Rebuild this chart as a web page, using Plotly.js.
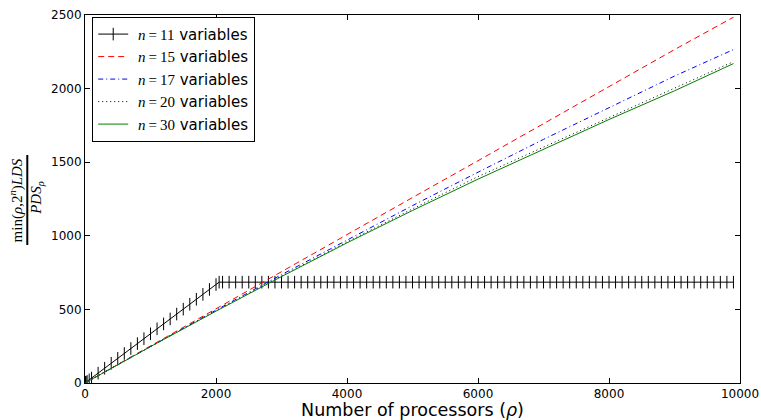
<!DOCTYPE html>
<html>
<head>
<meta charset="utf-8">
<script src="https://cdn.plot.ly/plotly-3.0.1.min.js"></script>
<style>html,body{margin:0;padding:0;background:#fff;}</style>
</head>
<body>
<div id="chart" style="width:761px;height:420px;"></div>
<script>
// n = 11 (measured points, with error-bar style ticks)
const xN11 = [1, 2, 4, 8, 16, 32, 64, 100, 200, 300, 400, 500, 600, 700, 800, 900, 1000,
  1100, 1200, 1300, 1400, 1500, 1600, 1700, 1800, 1900, 2000, 2048,
  2100, 2200, 2300, 2400, 2500, 2600, 2700, 2800, 2900, 3000,
  3100, 3200, 3300, 3400, 3500, 3600, 3700, 3800, 3900, 4000,
  4100, 4200, 4300, 4400, 4500, 4600, 4700, 4800, 4900, 5000,
  5100, 5200, 5300, 5400, 5500, 5600, 5700, 5800, 5900, 6000,
  6100, 6200, 6300, 6400, 6500, 6600, 6700, 6800, 6900, 7000,
  7100, 7200, 7300, 7400, 7500, 7600, 7700, 7800, 7900, 8000,
  8100, 8200, 8300, 8400, 8500, 8600, 8700, 8800, 8900, 9000,
  9100, 9200, 9300, 9400, 9500, 9600, 9700, 9800, 9900];
const yN11 = [0.33, 0.67, 1.34, 2.68, 5.35, 10.7, 21.4, 33.5, 66.9, 100.4, 133.8, 167.3, 200.7, 234.2, 267.6, 301.1, 334.5,
  368, 401.4, 434.9, 468.3, 501.8, 535.2, 568.7, 602.1, 635.6, 669, 685,
  685, 685, 685, 685, 685, 685, 685, 685, 685, 685,
  685, 685, 685, 685, 685, 685, 685, 685, 685, 685,
  685, 685, 685, 685, 685, 685, 685, 685, 685, 685,
  685, 685, 685, 685, 685, 685, 685, 685, 685, 685,
  685, 685, 685, 685, 685, 685, 685, 685, 685, 685,
  685, 685, 685, 685, 685, 685, 685, 685, 685, 685,
  685, 685, 685, 685, 685, 685, 685, 685, 685, 685,
  685, 685, 685, 685, 685, 685, 685, 685, 685];

// other series (sampled along the curves)
const xProc = [0, 1000, 2000, 3000, 4000, 5000, 6000, 7000, 8000, 9000, 9900];
const yN15 = [0, 253, 505, 757, 1008, 1260, 1510, 1762, 2013, 2265, 2485];
const yN17 = [0, 250, 495, 736, 973, 1205, 1432, 1655, 1870, 2085, 2265];
const yN20 = [0, 248, 490, 727, 958, 1183, 1402, 1603, 1805, 2005, 2183];
const yN30 = [0, 247, 488, 723, 952, 1172, 1385, 1590, 1790, 1985, 2170];

const names = ['11', '15', '17', '20', '30'];
const mathName = n => "&nbsp;<span style=\"font-family:'Liberation Serif'\"><i>n</i>&#8201;=&#8201;" + n + "</span> variables";

const traces = [
  {x: xN11, y: yN11, name: mathName(names[0]), mode: 'lines+markers', type: 'scatter',
   line: {color: '#000000', width: 1},
   marker: {symbol: 'line-ns-open', size: 9, color: '#000000', line: {color: '#000000', width: 1}}},
  {x: xProc, y: yN15, name: mathName(names[1]), mode: 'lines', type: 'scatter',
   line: {color: '#ff0000', width: 1, dash: '6px,4px'}},
  {x: xProc, y: yN17, name: mathName(names[2]), mode: 'lines', type: 'scatter',
   line: {color: '#0000ff', width: 1, dash: '5px,3px,1px,3px'}},
  {x: xProc, y: yN20, name: mathName(names[3]), mode: 'lines', type: 'scatter',
   line: {color: '#000000', width: 1, dash: '1px,3px'}},
  {x: xProc, y: yN30, name: mathName(names[4]), mode: 'lines', type: 'scatter',
   line: {color: '#008000', width: 1}}
];

const axisCommon = {
  showgrid: false, zeroline: false, showline: true, linecolor: '#000', linewidth: 1,
  mirror: 'ticks', ticks: 'inside', ticklen: 5, tickcolor: '#000', tickwidth: 1,
  tickfont: {family: 'DejaVu Sans', size: 12, color: '#000'}
};

const layout = {
  width: 761, height: 420,
  margin: {l: 85, r: 21, t: 15, b: 37},
  paper_bgcolor: '#fff', plot_bgcolor: '#fff',
  font: {family: 'DejaVu Sans', color: '#000'},
  showlegend: true,
  legend: {x: 0.011, y: 0.995, xanchor: 'left', yanchor: 'top',
           bgcolor: '#fff', bordercolor: '#000', borderwidth: 1,
           font: {family: 'DejaVu Sans', size: 15, color: '#000'}},
  xaxis: Object.assign({}, axisCommon, {
    range: [0, 10000], tickvals: [0, 2000, 4000, 6000, 8000, 10000],
    ticktext: ['0', '2000', '4000', '6000', '8000', '10000'],
    title: {text: 'Number of processors (<i>ρ</i>)', font: {family: 'DejaVu Sans', size: 17.5, color: '#000'}, standoff: 8}
  }),
  yaxis: Object.assign({}, axisCommon, {
    range: [0, 2500], tickvals: [0, 500, 1000, 1500, 2000, 2500],
    ticktext: ['0', '500', '1000', '1500', '2000', '2500']
  }),
  annotations: [
    {xref: 'paper', yref: 'paper', x: -0.1049, y: 0.497, xanchor: 'center', yanchor: 'middle',
     textangle: -90, showarrow: false,
     text: 'min(<i>ρ</i>,2<sup><i>n</i></sup>)<i>LDS</i>',
     font: {family: 'Liberation Serif', size: 15, color: '#000'}},
    {xref: 'paper', yref: 'paper', x: -0.0743, y: 0.504, xanchor: 'center', yanchor: 'middle',
     textangle: -90, showarrow: false,
     text: '<i>PDS</i><sub><i>ρ</i></sub>',
     font: {family: 'Liberation Serif', size: 15, color: '#000'}}
  ],
  shapes: [
    {type: 'line', xref: 'paper', yref: 'paper', x0: -0.0881, x1: -0.0881, y0: 0.375, y1: 0.6196,
     line: {color: '#000', width: 2}}
  ]
};

Plotly.newPlot('chart', traces, layout, {displayModeBar: false, staticPlot: true});
</script>
</body>
</html>
